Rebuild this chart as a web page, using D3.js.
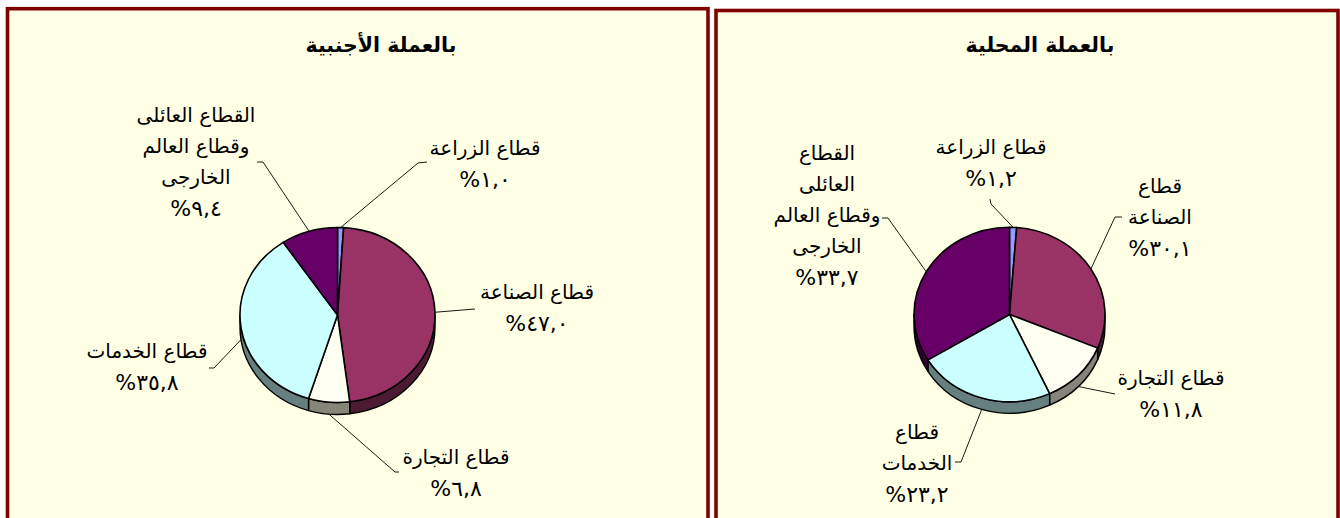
<!DOCTYPE html>
<html>
<head>
<meta charset="utf-8">
<script src="https://cdn.jsdelivr.net/npm/d3@7"></script>
<style>
  html, body { margin: 0; padding: 0; background: #ffffff; }
  svg { display: block; }
</style>
</head>
<body>
<svg id="chart" width="1340" height="518"></svg>
<script>
// ---------------- DATA ----------------
const titles = ["بالعملة الأجنبية", "بالعملة المحلية"];
const categories = ["قطاع الزراعة", "قطاع الصناعة", "قطاع التجارة", "قطاع الخدمات", "القطاع العائلى وقطاع العالم الخارجى"];
const foreignValues = [1.0, 47.0, 6.8, 35.8, 9.4];
const localValues = [1.2, 30.1, 11.8, 23.2, 33.7];

// ---------------- STYLE ----------------
const topColors  = ["#9999FF", "#993366", "#FFFFF2", "#CCFFFF", "#660066"];
const sideColors = ["#4C4C80", "#4D1A33", "#858578", "#668080", "#330033"];
const panelFill = "#FFFFE6";
const borderColor = "#800000";
const FONT = "'DejaVu Sans', Arial, sans-serif";

// ---------------- LAYOUT ----------------
const panels = [
  {
    frame: {x: 7.5, y: 8.7, w: 700.5, h: 600},
    title: titles[0], titleX: 381, titleY: 45,
    values: foreignValues,
    cx: 337.5, cy: 315, rx: 97.5, ry: 87.5, depth: 12,
    labels: [
      {x: 485, y: 148, lines: [categories[0]], elbow: [418, 163], tick: [427, 162]},
      {x: 537, y: 292, lines: [categories[1]], elbow: [475, 309]},
      {x: 456, y: 457, lines: [categories[2]], elbow: [395, 472], tick: [399, 472]},
      {x: 147, y: 351, lines: [categories[3]], elbow: [214, 368], tick: [209, 368]},
      {x: 196, y: 115, lines: ["القطاع العائلى", "وقطاع العالم", "الخارجى"], elbow: [263, 162], tick: [257, 162]}
    ]
  },
  {
    frame: {x: 716, y: 10.5, w: 622, h: 600},
    title: titles[1], titleX: 1040, titleY: 45,
    values: localValues,
    cx: 1009.5, cy: 314.5, rx: 95.5, ry: 87.2, depth: 11.5,
    labels: [
      {x: 991, y: 147, lines: [categories[0]], elbow: [991, 204], tick: [990, 199]},
      {x: 1160, y: 186, lines: ["قطاع", "الصناعة"], elbow: [1115, 217], tick: [1122, 217]},
      {x: 1171, y: 378, lines: [categories[2]], elbow: [1115, 394]},
      {x: 917, y: 432, lines: ["قطاع", "الخدمات"], elbow: [961, 462], tick: [955, 462]},
      {x: 827, y: 153, lines: ["القطاع", "العائلى", "وقطاع العالم", "الخارجى"], elbow: [888, 218], tick: [882, 218]}
    ]
  }
];
const lineStep = 31;

// ---------------- HELPERS ----------------
const arabicDigits = "٠١٢٣٤٥٦٧٨٩";
const fmt = d3.format(".1f");
function pctLabel(v) {
  const s = fmt(v).replace(".", ",").replace(/[0-9]/g, d => arabicDigits[+d]);
  return "%" + s;
}

const svg = d3.select("#chart");
const pie = d3.pie().sort(null).startAngle(0).endAngle(2 * Math.PI);

panels.forEach(p => {
  const g = svg.append("g");

  // panel background + frame
  g.append("rect")
    .attr("x", p.frame.x).attr("y", p.frame.y)
    .attr("width", p.frame.w).attr("height", p.frame.h)
    .attr("fill", panelFill)
    .attr("stroke", borderColor).attr("stroke-width", 3.6);

  // title
  g.append("text")
    .attr("x", p.titleX).attr("y", p.titleY)
    .attr("text-anchor", "middle").attr("dominant-baseline", "central")
    .attr("font-family", FONT).attr("font-weight", "bold").attr("font-size", 20.5)
    .attr("direction", "rtl")
    .text(p.title);

  const P = a => [p.cx + p.rx * Math.sin(a), p.cy - p.ry * Math.cos(a)];
  const arcs = pie(p.values);

  // sides (front half only)
  const lo = Math.PI / 2, hi = 3 * Math.PI / 2;
  arcs.forEach((d, i) => {
    const s = Math.max(d.startAngle, lo), e = Math.min(d.endAngle, hi);
    if (s >= e) return;
    const ps = P(s), pe = P(e);
    const str = `M${ps[0]},${ps[1]} A${p.rx},${p.ry} 0 0 1 ${pe[0]},${pe[1]} ` +
                `L${pe[0]},${pe[1] + p.depth} A${p.rx},${p.ry} 0 0 0 ${ps[0]},${ps[1] + p.depth} Z`;
    g.append("path").attr("d", str)
      .attr("fill", sideColors[i])
      .attr("stroke", "#000").attr("stroke-width", 1.4).attr("stroke-linejoin", "round");
  });

  // top faces
  arcs.forEach((d, i) => {
    const a0 = P(d.startAngle), a1 = P(d.endAngle);
    const large = (d.endAngle - d.startAngle) > Math.PI ? 1 : 0;
    const str = `M${p.cx},${p.cy} L${a0[0]},${a0[1]} A${p.rx},${p.ry} 0 ${large} 1 ${a1[0]},${a1[1]} Z`;
    g.append("path").attr("d", str)
      .attr("fill", topColors[i])
      .attr("stroke", "#000").attr("stroke-width", 1.6).attr("stroke-linejoin", "round");
  });

  // leader lines + labels
  arcs.forEach((d, i) => {
    const L = p.labels[i];
    const mid = (d.startAngle + d.endAngle) / 2;
    const anchor = P(mid);
    if (Math.cos(mid) < 0) anchor[1] += p.depth;
    const pts = [anchor, L.elbow];
    if (L.tick) pts.push(L.tick);
    g.append("path")
      .attr("d", d3.line()(pts))
      .attr("fill", "none").attr("stroke", "#000").attr("stroke-width", 0.9);

    const lines = L.lines.concat([pctLabel(p.values[i])]);
    lines.forEach((t, k) => {
      const isPct = k === lines.length - 1;
      g.append("text")
        .attr("x", L.x).attr("y", L.y + k * lineStep)
        .attr("text-anchor", "middle").attr("dominant-baseline", "central")
        .attr("font-family", FONT).attr("font-size", isPct ? 22 : 20)
        .attr("direction", isPct ? "ltr" : "rtl")
        .attr("fill", "#000")
        .text(t);
    });
  });
});
</script>
</body>
</html>
